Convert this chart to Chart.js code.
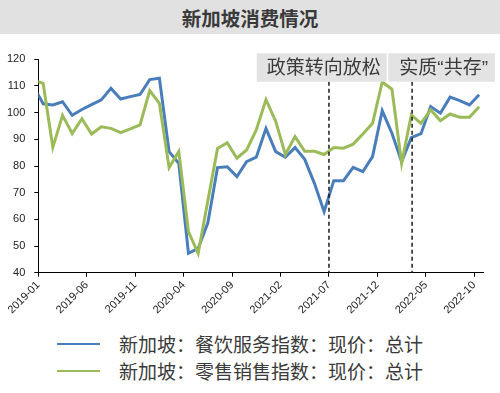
<!DOCTYPE html>
<html><head><meta charset="utf-8">
<script src="https://cdn.jsdelivr.net/npm/chart.js@4.4.0/dist/chart.umd.min.js"></script>
<style>
html,body{margin:0;padding:0;background:#fff;width:500px;height:393px;overflow:hidden;font-family:"Noto Sans CJK SC","Noto Sans",sans-serif;}
#title{position:absolute;left:0;top:0;width:500px;height:34px;background:#e1e1e1;color:#3a3a3a;font-weight:bold;font-size:19.5px;line-height:35px;text-align:center;}
#wrap{position:absolute;left:0;top:34px;width:500px;height:281px;}
#legend{position:absolute;left:0;top:315px;width:500px;height:78px;}
.row{position:absolute;left:0;height:26px;width:500px;}
.swatch{position:absolute;left:57px;width:43px;height:2px;top:12px;}
.lab{position:absolute;left:119px;top:0;font-size:19px;line-height:26px;color:#3a3a3a;white-space:nowrap;}
</style></head>
<body>
<div id="title">新加坡消费情况</div>
<div id="wrap"><canvas id="c"></canvas></div>
<div id="legend">
  <div class="row" style="top:16px"><div class="swatch" style="background:#4a7ebb"></div><div class="lab">新加坡：餐饮服务指数：现价：总计</div></div>
  <div class="row" style="top:43px"><div class="swatch" style="background:#9bbb59"></div><div class="lab">新加坡：零售销售指数：现价：总计</div></div>
</div>
<script>
// ---- data ----
const months = ['2018-12',
 '2019-01','2019-02','2019-03','2019-04','2019-05','2019-06','2019-07','2019-08','2019-09','2019-10','2019-11','2019-12',
 '2020-01','2020-02','2020-03','2020-04','2020-05','2020-06','2020-07','2020-08','2020-09','2020-10','2020-11','2020-12',
 '2021-01','2021-02','2021-03','2021-04','2021-05','2021-06','2021-07','2021-08','2021-09','2021-10','2021-11','2021-12',
 '2022-01','2022-02','2022-03','2022-04','2022-05','2022-06','2022-07','2022-08','2022-09','2022-10'];
const foodService = [109.9,
 103.3,102.9,104.1,99.0,101.2,103.0,104.8,109.1,105.1,106.0,106.8,112.4,
 112.9,85.4,81.0,47.3,49.1,58.7,79.4,79.7,76.0,81.6,83.3,94.1,
 85.4,83.3,86.9,82.5,73.5,62.9,74.5,74.5,79.5,77.9,83.5,100.7,
 92.3,81.6,90.6,92.1,102.3,99.8,105.8,104.5,102.9,106.7];
const retail = [112.2,
 111.0,87.0,99.0,92.2,97.7,92.0,94.7,94.1,92.5,93.9,95.4,108.3,
 103.5,79.4,85.4,55.4,47.2,67.0,86.6,88.7,82.9,86.0,93.5,104.9,
 96.8,84.3,91.0,85.5,85.5,84.3,86.9,86.7,88.2,92.0,96.0,111.5,
 108.8,81.0,99.1,96.0,101.1,97.0,99.5,98.3,98.3,102.2];
const tickLabels = ['2019-01','2019-06','2019-11','2020-04','2020-09','2021-02','2021-07','2021-12','2022-05','2022-10'];
const seriesNames = ['新加坡：餐饮服务指数：现价：总计','新加坡：零售销售指数：现价：总计'];
const markerDates = ['2021-07-01','2022-03-19'];
const markerLabels = ['政策转向放松','实质“共存”'];

// month offset from 2019-01
function monthPos(s){const [y,m]=s.split('-').map(Number);return (y-2019)*12+(m-1);}
function dayPos(s){const [y,m,d]=s.split('-').map(Number);const dim=new Date(y,m,0).getDate();return (y-2019)*12+(m-1)+(d-1)/dim;}
const toPts = arr => arr.map((v,i)=>({x:monthPos(months[i])+0.5,y:v}));

// annotation box layout (canvas coords)
const BOXES = [{l:256.7,r:386.7},{l:388.3,r:495}];
const BOX_TOP = 19.3, BOX_BOTTOM = 47.7;

const annot = {
  id:'annot',
  afterDatasetsDraw(chart){
    const {ctx, chartArea, scales:{x}} = chart;
    ctx.save();
    ctx.setLineDash([4,3]);
    ctx.strokeStyle = '#1a1a1a';
    ctx.lineWidth = 1.5;
    markerDates.forEach(d=>{
      const px = x.getPixelForValue(dayPos(d));
      ctx.beginPath(); ctx.moveTo(px, BOX_BOTTOM); ctx.lineTo(px, chartArea.bottom); ctx.stroke();
    });
    ctx.setLineDash([]);
    BOXES.forEach((b,i)=>{
      ctx.fillStyle = '#e3e3e3';
      ctx.fillRect(b.l, BOX_TOP, b.r-b.l, BOX_BOTTOM-BOX_TOP);
      ctx.fillStyle = '#3a3a3a';
      ctx.font = '19px "Liberation Sans", "Noto Sans CJK SC"';
      ctx.textAlign = 'center'; ctx.textBaseline = 'middle';
      ctx.fillText(markerLabels[i], (b.l+b.r)/2 + 2, (BOX_TOP+BOX_BOTTOM)/2 + 1);
    });
    ctx.restore();
  }
};

new Chart(document.getElementById('c'), {
  type:'line',
  data:{datasets:[
    {label:seriesNames[0], data:toPts(foodService), borderColor:'#4a7ebb', borderWidth:3, pointRadius:0, tension:0, order:2},
    {label:seriesNames[1], data:toPts(retail), borderColor:'#9bbb59', borderWidth:3, pointRadius:0, tension:0, order:1}
  ]},
  options:{
    responsive:true, maintainAspectRatio:false, animation:false,
    layout:{padding:{top:25.3,left:0,right:17,bottom:0}},
    plugins:{legend:{display:false}, tooltip:{enabled:false}},
    scales:{
      x:{type:'linear', min:0, max:45.9,
        afterBuildTicks(scale){ scale.ticks = tickLabels.map(l=>({value:monthPos(l)})); },
        afterFit(scale){ scale.height = 42.3; },
        grid:{drawOnChartArea:false, drawTicks:true, tickLength:4, color:'#000', tickColor:'#000'},
        border:{display:true, color:'#000', width:1},
        ticks:{autoSkip:false, minRotation:45, maxRotation:45, padding:2, color:'#222',
          font:{family:'"Liberation Sans", Arial', size:11},
          callback(v){ const i = tickLabels.findIndex(l=>monthPos(l)===v); return i>=0?tickLabels[i]:''; }}
      },
      y:{min:40, max:120,
        afterFit(scale){ scale.width = 38.3; },
        grid:{drawOnChartArea:false, drawTicks:true, tickLength:4, color:'#000', tickColor:'#000'},
        border:{display:true, color:'#000', width:1},
        ticks:{stepSize:10, padding:9, color:'#222', font:{family:'"Liberation Sans", Arial', size:11}}
      }
    }
  },
  plugins:[annot]
});
</script>
</body></html>
